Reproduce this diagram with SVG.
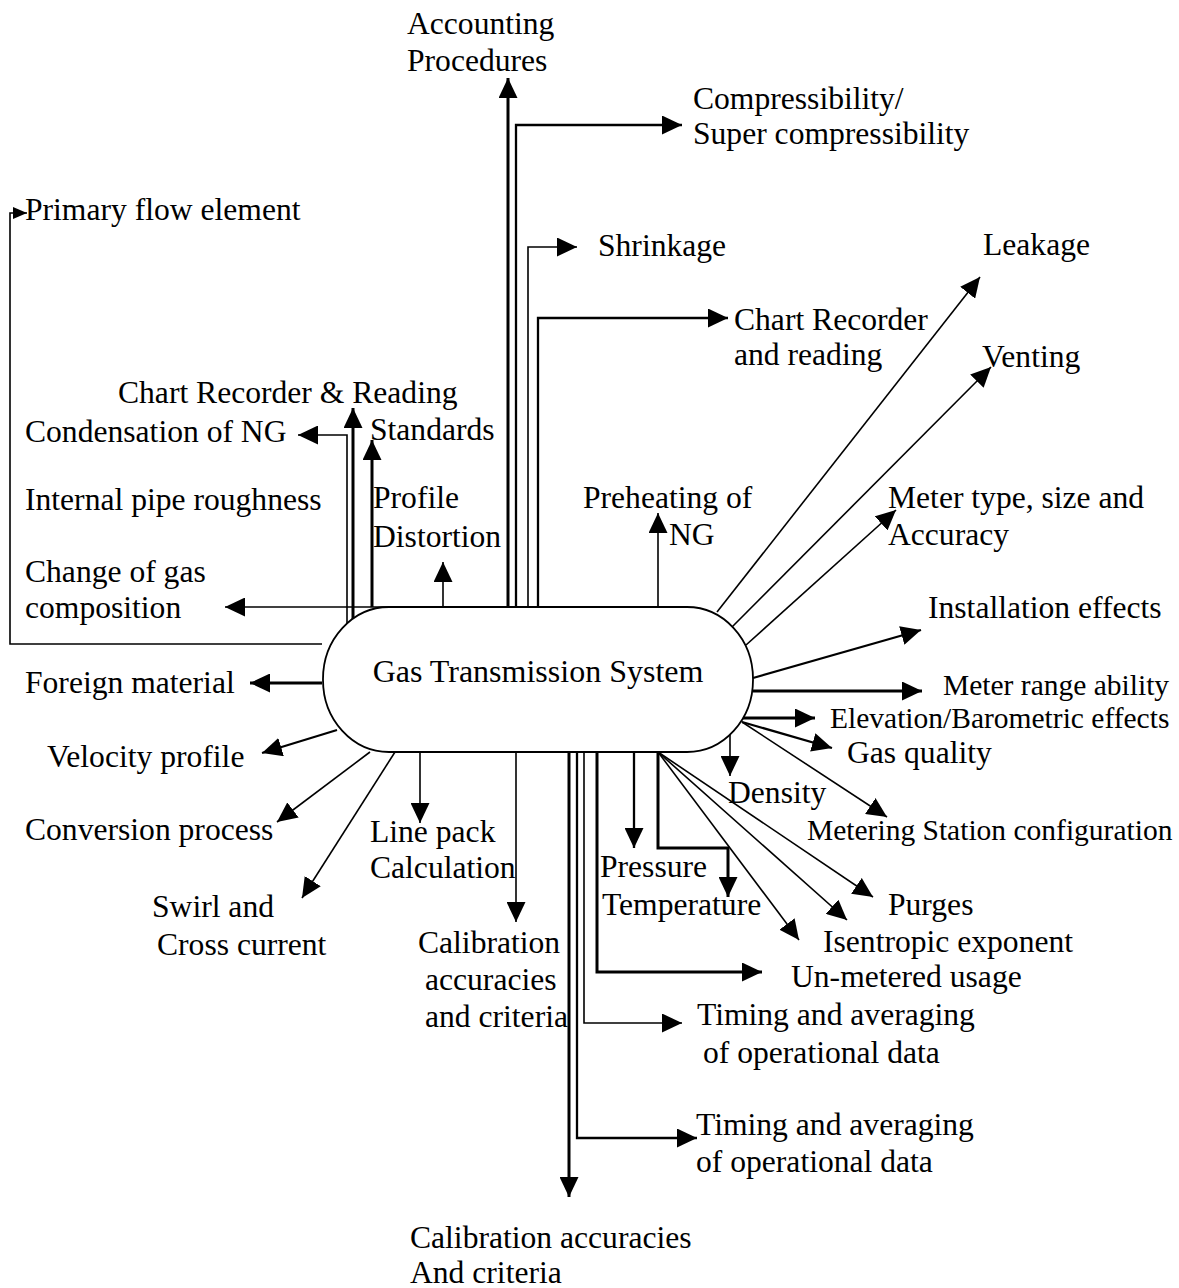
<svg xmlns="http://www.w3.org/2000/svg" width="1179" height="1288" viewBox="0 0 1179 1288">
  <style>
    text { font-family: "Liberation Serif", "Times New Roman", serif; font-size: 31.6px; fill: #000; }
    .sm { font-size: 29.5px; }
    .hub { font-size: 32px; }
    .c { fill: none; stroke: #000; stroke-width: 1.6; }
    .k { stroke-width: 3; }
    .m { stroke-width: 2.3; }
    .a { marker-end: url(#ah); }
    .as { marker-end: url(#ahs); }
  </style>
  <defs>
    <marker id="ah" viewBox="0 0 20 19" refX="20" refY="9.5" markerWidth="20" markerHeight="19" markerUnits="userSpaceOnUse" orient="auto">
      <path d="M0,0 L20,9.5 L0,19 z" fill="#000"/>
    </marker>
    <marker id="ahs" viewBox="0 0 14 12" refX="14" refY="6" markerWidth="14" markerHeight="12" markerUnits="userSpaceOnUse" orient="auto">
      <path d="M0,0 L14,6 L0,12 z" fill="#000"/>
    </marker>
  </defs>
  <rect width="1179" height="1288" fill="#fff"/>

  <!-- connectors -->
  <g id="connectors">
    <!-- upward from the top edge -->
    <path class="c k a" d="M508,607 V78"/>
    <path class="c m a" d="M516,607 V125 H682"/>
    <path class="c a" d="M528,607 V247 H577"/>
    <path class="c m a" d="M538,607 V318 H728"/>
    <path class="c a" d="M658,607 V513"/>
    <path class="c a" d="M443,607 V562"/>
    <path class="c k a" d="M372,607 V440"/>
    <path class="c k a" d="M353,620 V408"/>
    <path class="c a" d="M347,626 V435 H298"/>
    <path class="c a" d="M392,607 H225"/>
    <path class="c as" d="M322,644 H10 V213 H27"/>
    <!-- right side -->
    <path class="c a" d="M717,612 L980,277"/>
    <path class="c a" d="M732,627 L991,367"/>
    <path class="c a" d="M746,645 L896,510"/>
    <path class="c m a" d="M753,678 L921,630"/>
    <path class="c k a" d="M753,691 H922"/>
    <path class="c k a" d="M742,718 H815"/>
    <path class="c m a" d="M742,722 L832,748"/>
    <path class="c a" d="M742,722 L887,817"/>
    <path class="c a" d="M730,734 V776"/>
    <!-- left side -->
    <path class="c k a" d="M322,683 H250"/>
    <path class="c m a" d="M337,730 L262,753"/>
    <path class="c a" d="M370,752 L277,822"/>
    <path class="c a" d="M395,752 L302,898"/>
    <!-- downward from the bottom edge -->
    <path class="c a" d="M420,752 V823"/>
    <path class="c a" d="M516,752 V922"/>
    <path class="c k a" d="M569,752 V1197"/>
    <path class="c m a" d="M577,752 V1138 H697"/>
    <path class="c a" d="M584,752 V1023 H682"/>
    <path class="c k a" d="M597,752 V972 H762"/>
    <path class="c m a" d="M634,752 V848"/>
    <path class="c k a" d="M658,752 V848 H728 V897"/>
    <path class="c a" d="M658,752 L873,897"/>
    <path class="c a" d="M658,752 L847,920"/>
    <path class="c a" d="M658,752 L799,940"/>
  </g>

  <!-- central node -->
  <g id="gas-transmission-system">
    <rect x="323" y="607" width="430" height="145" rx="66" ry="72" fill="#fff" stroke="#000" stroke-width="1.8"/>
    <text class="hub" x="538" y="682" text-anchor="middle">Gas Transmission System</text>
  </g>

  <!-- surrounding factors -->
  <g id="accounting-procedures"><text x="407" y="34">Accounting</text><text x="407" y="71">Procedures</text></g>
  <g id="compressibility"><text x="693" y="109">Compressibility/</text><text x="693" y="144">Super compressibility</text></g>
  <g id="primary-flow-element"><text x="25" y="220">Primary flow element</text></g>
  <g id="shrinkage"><text x="598" y="256">Shrinkage</text></g>
  <g id="leakage"><text x="983" y="255">Leakage</text></g>
  <g id="chart-recorder-reading-r"><text x="734" y="330">Chart Recorder</text><text x="734" y="365">and reading</text></g>
  <g id="venting"><text x="982" y="367">Venting</text></g>
  <g id="chart-recorder-reading-l"><text x="118" y="403">Chart Recorder &amp; Reading</text></g>
  <g id="condensation"><text x="25" y="442">Condensation of NG</text></g>
  <g id="standards"><text x="370" y="440">Standards</text></g>
  <g id="pipe-roughness"><text x="25" y="510">Internal pipe roughness</text></g>
  <g id="profile-distortion"><text x="373" y="508">Profile</text><text x="373" y="547">Distortion</text></g>
  <g id="preheating"><text x="583" y="508">Preheating of</text><text x="669" y="545">NG</text></g>
  <g id="meter-type"><text x="888" y="508">Meter type, size and</text><text x="888" y="545">Accuracy</text></g>
  <g id="gas-composition"><text x="25" y="582">Change of gas</text><text x="25" y="618">composition</text></g>
  <g id="installation-effects"><text x="928" y="618">Installation effects</text></g>
  <g id="foreign-material"><text x="25" y="693">Foreign material</text></g>
  <g id="meter-range"><text class="sm" x="943" y="695">Meter range ability</text></g>
  <g id="elevation"><text class="sm" x="830" y="728">Elevation/Barometric effects</text></g>
  <g id="gas-quality"><text x="847" y="763">Gas quality</text></g>
  <g id="velocity-profile"><text x="47" y="767">Velocity profile</text></g>
  <g id="density"><text x="728" y="803">Density</text></g>
  <g id="conversion-process"><text x="25" y="840">Conversion process</text></g>
  <g id="metering-station"><text class="sm" x="807" y="840">Metering Station configuration</text></g>
  <g id="line-pack"><text x="370" y="842">Line pack</text><text x="370" y="878">Calculation</text></g>
  <g id="pressure"><text x="600" y="877">Pressure</text></g>
  <g id="temperature"><text x="602" y="915">Temperature</text></g>
  <g id="swirl"><text x="152" y="917">Swirl and</text><text x="157" y="955">Cross current</text></g>
  <g id="purges"><text x="888" y="915">Purges</text></g>
  <g id="calibration-a"><text x="418" y="953">Calibration</text><text x="425" y="990">accuracies</text><text x="425" y="1027">and criteria</text></g>
  <g id="isentropic"><text x="823" y="952">Isentropic exponent</text></g>
  <g id="unmetered"><text x="791" y="987">Un-metered usage</text></g>
  <g id="timing-a"><text x="697" y="1025">Timing and averaging</text><text x="703" y="1063">of operational data</text></g>
  <g id="timing-b"><text x="696" y="1135">Timing and averaging</text><text x="696" y="1172">of operational data</text></g>
  <g id="calibration-b"><text x="410" y="1248">Calibration accuracies</text><text x="410" y="1283">And criteria</text></g>
</svg>
